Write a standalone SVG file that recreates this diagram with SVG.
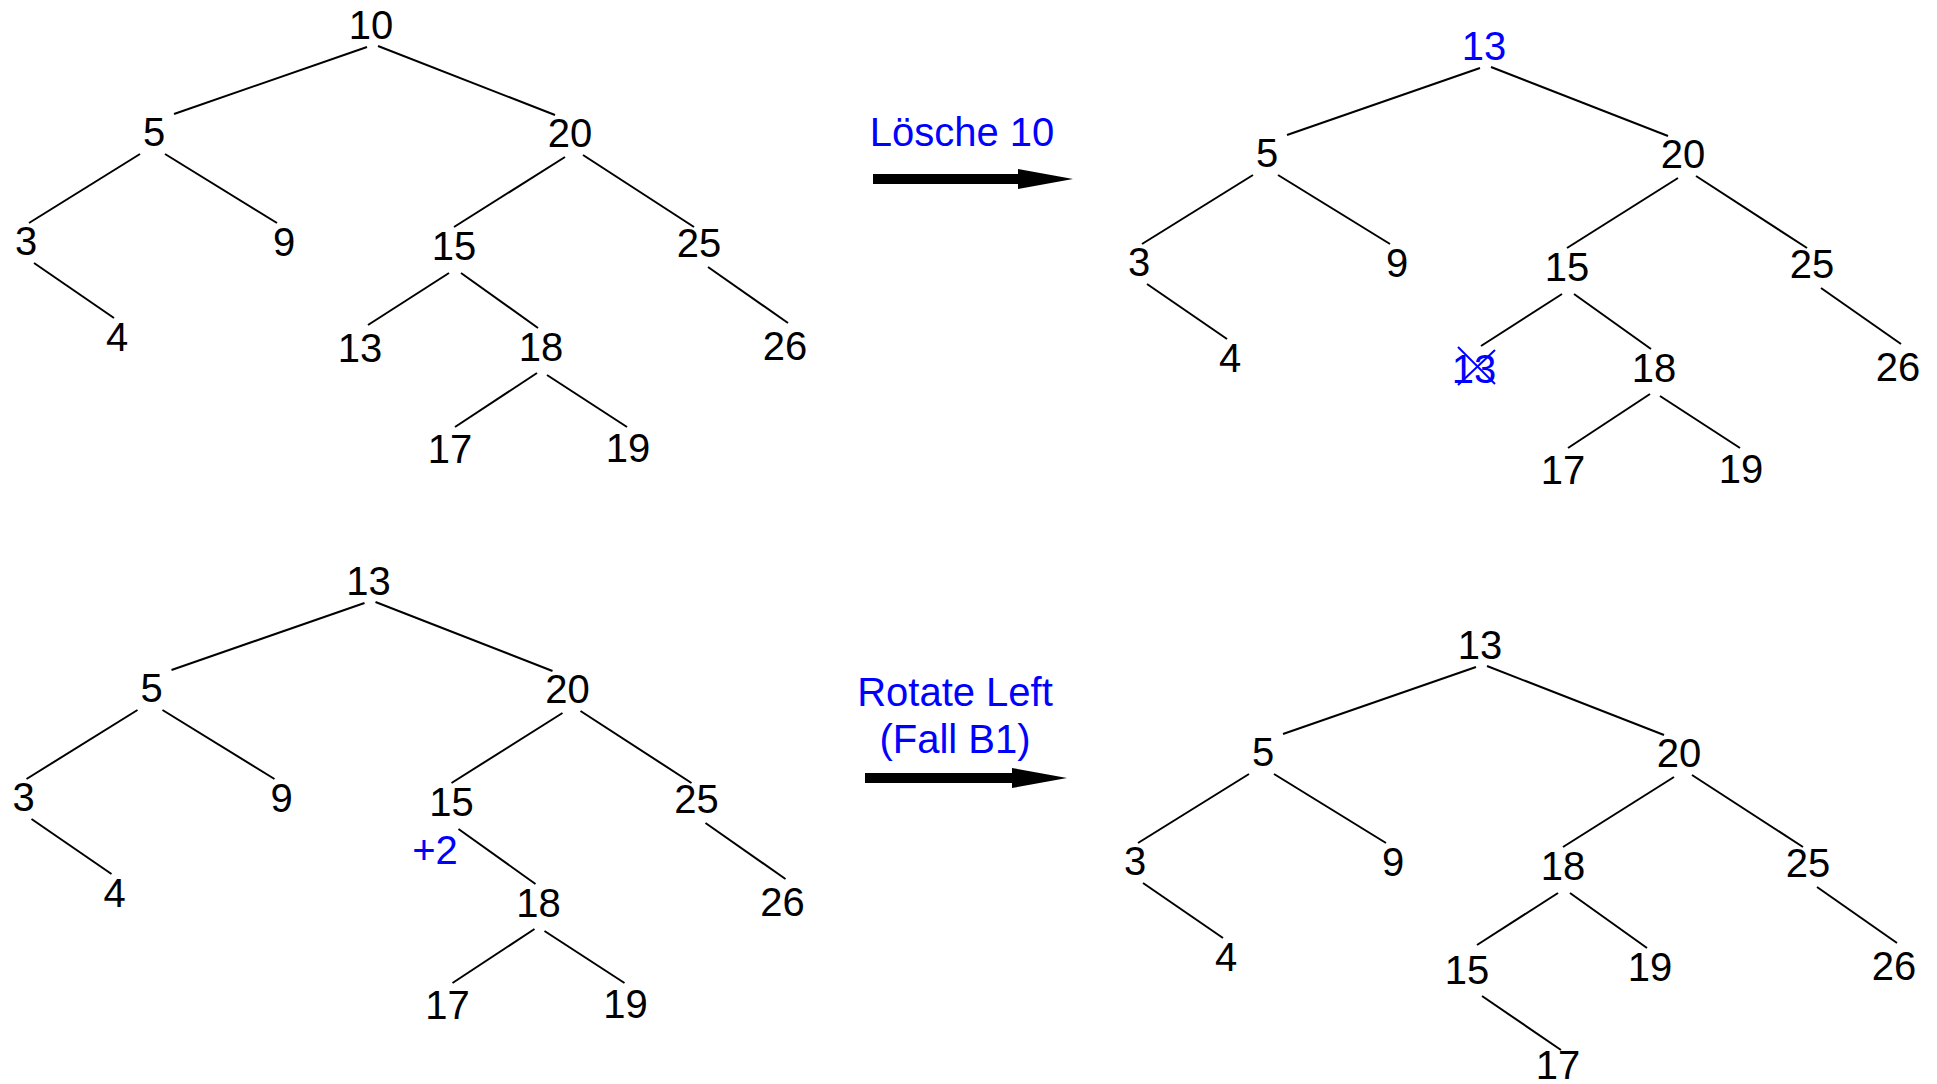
<svg xmlns="http://www.w3.org/2000/svg" width="1937" height="1084" viewBox="0 0 1937 1084">
  <defs>
    <style>
      .lbl { font-family: "Liberation Sans", Arial, sans-serif; font-size: 40px; text-anchor: middle; fill: #000; }
      .blue { fill: #0000ff; }
      .edge { stroke: #000; stroke-width: 2; fill: none; }
      .cross { stroke: #0000ff; stroke-width: 2; fill: none; }
      .shaft { stroke: #000; stroke-width: 10; fill: none; }
    </style>
    <marker id="head" markerUnits="userSpaceOnUse" markerWidth="56" markerHeight="20" refX="0" refY="10" orient="auto">
      <path d="M0,0 L55,10 L0,20 Z" fill="#000"/>
    </marker>
  </defs>
  <rect width="1937" height="1084" fill="#fff"/>

  <!-- Tree 1: initial AVL tree -->
  <g id="tree1">
    <g id="tree1-edges">
      <line class="edge" x1="367" y1="47" x2="174" y2="114"/>
      <line class="edge" x1="378" y1="46" x2="555" y2="115"/>
      <line class="edge" x1="140" y1="154" x2="29" y2="223"/>
      <line class="edge" x1="165" y1="154" x2="277" y2="223"/>
      <line class="edge" x1="565" y1="157" x2="454" y2="227"/>
      <line class="edge" x1="583" y1="155" x2="694" y2="227"/>
      <line class="edge" x1="34" y1="263" x2="114" y2="318"/>
      <line class="edge" x1="449" y1="273" x2="368" y2="325"/>
      <line class="edge" x1="461" y1="273" x2="538" y2="328"/>
      <line class="edge" x1="708" y1="267" x2="788" y2="323"/>
      <line class="edge" x1="537" y1="373" x2="455" y2="427"/>
      <line class="edge" x1="547" y1="375" x2="627" y2="427"/>
    </g>
    <g id="t1-n10"><text class="lbl" x="371" y="39">10</text></g>
    <g id="t1-n5"><text class="lbl" x="154" y="146">5</text></g>
    <g id="t1-n20"><text class="lbl" x="570" y="147">20</text></g>
    <g id="t1-n3"><text class="lbl" x="26" y="255">3</text></g>
    <g id="t1-n9"><text class="lbl" x="284" y="256">9</text></g>
    <g id="t1-n15"><text class="lbl" x="454" y="260">15</text></g>
    <g id="t1-n25"><text class="lbl" x="699" y="257">25</text></g>
    <g id="t1-n4"><text class="lbl" x="117" y="351">4</text></g>
    <g id="t1-n13"><text class="lbl" x="360" y="362">13</text></g>
    <g id="t1-n18"><text class="lbl" x="541" y="361">18</text></g>
    <g id="t1-n26"><text class="lbl" x="785" y="360">26</text></g>
    <g id="t1-n17"><text class="lbl" x="450" y="463">17</text></g>
    <g id="t1-n19"><text class="lbl" x="628" y="462">19</text></g>
  </g>

  <!-- Tree 2: 10 replaced by its successor 13 -->
  <g id="tree2" transform="translate(1113,21)">
    <g id="tree2-edges">
      <line class="edge" x1="367" y1="47" x2="174" y2="114"/>
      <line class="edge" x1="378" y1="46" x2="555" y2="115"/>
      <line class="edge" x1="140" y1="154" x2="29" y2="223"/>
      <line class="edge" x1="165" y1="154" x2="277" y2="223"/>
      <line class="edge" x1="565" y1="157" x2="454" y2="227"/>
      <line class="edge" x1="583" y1="155" x2="694" y2="227"/>
      <line class="edge" x1="34" y1="263" x2="114" y2="318"/>
      <line class="edge" x1="449" y1="273" x2="368" y2="325"/>
      <line class="edge" x1="461" y1="273" x2="538" y2="328"/>
      <line class="edge" x1="708" y1="267" x2="788" y2="323"/>
      <line class="edge" x1="537" y1="373" x2="455" y2="427"/>
      <line class="edge" x1="547" y1="375" x2="627" y2="427"/>
    </g>
    <g id="t2-n13"><text class="lbl blue" x="371" y="39">13</text></g>
    <g id="t2-n5"><text class="lbl" x="154" y="146">5</text></g>
    <g id="t2-n20"><text class="lbl" x="570" y="147">20</text></g>
    <g id="t2-n3"><text class="lbl" x="26" y="255">3</text></g>
    <g id="t2-n9"><text class="lbl" x="284" y="256">9</text></g>
    <g id="t2-n15"><text class="lbl" x="454" y="260">15</text></g>
    <g id="t2-n25"><text class="lbl" x="699" y="257">25</text></g>
    <g id="t2-n4"><text class="lbl" x="117" y="351">4</text></g>
    <g id="t2-n13old">
      <text class="lbl blue" x="361" y="362">13</text>
      <line class="cross" x1="345" y1="326" x2="382" y2="363"/>
      <line class="cross" x1="382" y1="329" x2="345" y2="364"/>
    </g>
    <g id="t2-n18"><text class="lbl" x="541" y="361">18</text></g>
    <g id="t2-n26"><text class="lbl" x="785" y="360">26</text></g>
    <g id="t2-n17"><text class="lbl" x="450" y="463">17</text></g>
    <g id="t2-n19"><text class="lbl" x="628" y="462">19</text></g>
  </g>

  <!-- Tree 3: leaf removed, node 15 out of balance -->
  <g id="tree3" transform="translate(-2.5,556)">
    <g id="tree3-edges">
      <line class="edge" x1="367" y1="47" x2="174" y2="114"/>
      <line class="edge" x1="378" y1="46" x2="555" y2="115"/>
      <line class="edge" x1="140" y1="154" x2="29" y2="223"/>
      <line class="edge" x1="165" y1="154" x2="277" y2="223"/>
      <line class="edge" x1="565" y1="157" x2="454" y2="227"/>
      <line class="edge" x1="583" y1="155" x2="694" y2="227"/>
      <line class="edge" x1="34" y1="263" x2="114" y2="318"/>
      <line class="edge" x1="461" y1="273" x2="538" y2="328"/>
      <line class="edge" x1="708" y1="267" x2="788" y2="323"/>
      <line class="edge" x1="537" y1="373" x2="455" y2="427"/>
      <line class="edge" x1="547" y1="375" x2="627" y2="427"/>
    </g>
    <g id="t3-n13"><text class="lbl" x="371" y="39">13</text></g>
    <g id="t3-n5"><text class="lbl" x="154" y="146">5</text></g>
    <g id="t3-n20"><text class="lbl" x="570" y="147">20</text></g>
    <g id="t3-n3"><text class="lbl" x="26" y="255">3</text></g>
    <g id="t3-n9"><text class="lbl" x="284" y="256">9</text></g>
    <g id="t3-n15"><text class="lbl" x="454" y="260">15</text></g>
    <g id="t3-balance"><text class="lbl blue" x="437.5" y="308">+2</text></g>
    <g id="t3-n25"><text class="lbl" x="699" y="257">25</text></g>
    <g id="t3-n4"><text class="lbl" x="117" y="351">4</text></g>
    <g id="t3-n18"><text class="lbl" x="541" y="361">18</text></g>
    <g id="t3-n26"><text class="lbl" x="785" y="360">26</text></g>
    <g id="t3-n17"><text class="lbl" x="450" y="463">17</text></g>
    <g id="t3-n19"><text class="lbl" x="628" y="462">19</text></g>
  </g>

  <!-- Tree 4: after left rotation at 15 -->
  <g id="tree4" transform="translate(1109,620)">
    <g id="tree4-edges">
      <line class="edge" x1="367" y1="47" x2="174" y2="114"/>
      <line class="edge" x1="378" y1="46" x2="555" y2="115"/>
      <line class="edge" x1="140" y1="154" x2="29" y2="223"/>
      <line class="edge" x1="165" y1="154" x2="277" y2="223"/>
      <line class="edge" x1="565" y1="157" x2="454" y2="227"/>
      <line class="edge" x1="583" y1="155" x2="694" y2="227"/>
      <line class="edge" x1="34" y1="263" x2="114" y2="318"/>
      <line class="edge" x1="449" y1="273" x2="368" y2="325"/>
      <line class="edge" x1="461" y1="273" x2="538" y2="328"/>
      <line class="edge" x1="708" y1="267" x2="788" y2="323"/>
      <line class="edge" x1="373" y1="376" x2="452" y2="430"/>
    </g>
    <g id="t4-n13"><text class="lbl" x="371" y="39">13</text></g>
    <g id="t4-n5"><text class="lbl" x="154" y="146">5</text></g>
    <g id="t4-n20"><text class="lbl" x="570" y="147">20</text></g>
    <g id="t4-n3"><text class="lbl" x="26" y="255">3</text></g>
    <g id="t4-n9"><text class="lbl" x="284" y="256">9</text></g>
    <g id="t4-n18"><text class="lbl" x="454" y="260">18</text></g>
    <g id="t4-n25"><text class="lbl" x="699" y="257">25</text></g>
    <g id="t4-n4"><text class="lbl" x="117" y="351">4</text></g>
    <g id="t4-n15"><text class="lbl" x="358" y="364">15</text></g>
    <g id="t4-n19"><text class="lbl" x="541" y="361">19</text></g>
    <g id="t4-n26"><text class="lbl" x="785" y="360">26</text></g>
    <g id="t4-n17"><text class="lbl" x="449" y="459">17</text></g>
  </g>

  <!-- Step arrows with captions -->
  <g id="step-delete">
    <text class="lbl blue" x="962" y="146">Lösche 10</text>
    <line class="shaft" x1="873" y1="179" x2="1018" y2="179" marker-end="url(#head)"/>
  </g>
  <g id="step-rotate">
    <text class="lbl blue" x="955" y="706">Rotate Left</text>
    <text class="lbl blue" x="955" y="753">(Fall B1)</text>
    <line class="shaft" x1="865" y1="778" x2="1012" y2="778" marker-end="url(#head)"/>
  </g>
</svg>
